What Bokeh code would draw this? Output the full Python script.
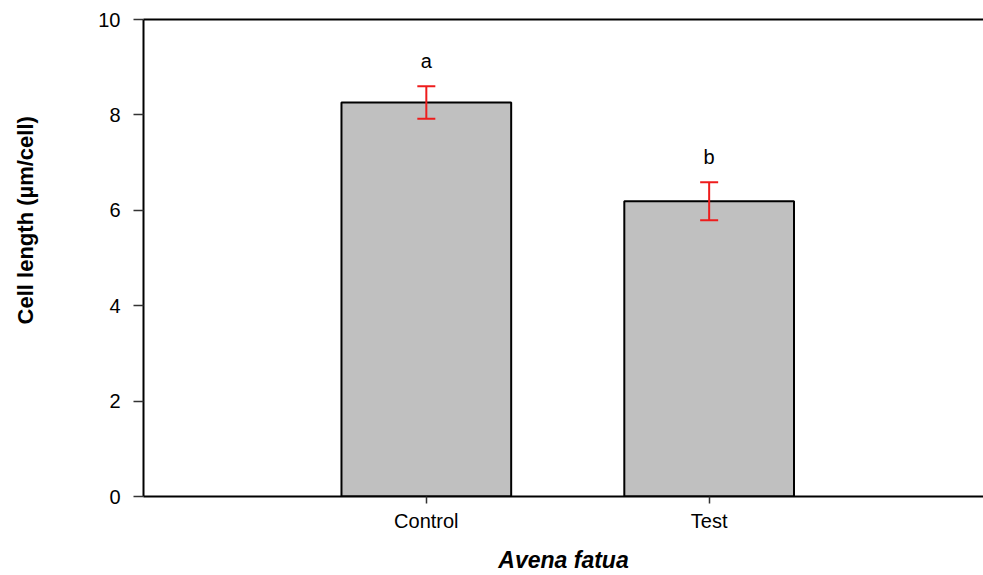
import math
from bokeh.plotting import figure
from bokeh.layouts import row
from bokeh.models import (ColumnDataSource, Range1d, FixedTicker, LinearAxis, Whisker, TeeHead, Label)
from bokeh.core.properties import value
from bokeh.embed import file_html
from bokeh.resources import INLINE

categories = ["Control", "Test"]
means = [8.26, 6.19]
errors = [0.34, 0.40]
letters = ["a", "b"]
y_ticks = [0, 2, 4, 6, 8, 10]
y_title = "Cell length (µm/cell)"
x_title = "Avena fatua"

xpos = [i + 1 for i in range(len(categories))]
src = ColumnDataSource(dict(
    x=xpos, top=means,
    upper=[m + e for m, e in zip(means, errors)],
    lower=[m - e for m, e in zip(means, errors)],
    ly=[m + e + 0.52 for m, e in zip(means, errors)],
    lab=letters,
))

# narrow side panel carrying the y-axis title
side = figure(width=50, height=575, output_backend="svg", toolbar_location=None,
              x_range=Range1d(0, 50), y_range=Range1d(0, 575),
              min_border=0)
side.axis.visible = False
side.grid.visible = False
side.outline_line_color = None
side.add_layout(Label(x=25, y=333, text=y_title, angle=math.pi / 2,
                      text_align="center", text_baseline="middle",
                      text_font="Liberation Sans", text_font_style="bold",
                      text_font_size="22px", text_color="black"))

p = figure(width=933, height=575, output_backend="svg", toolbar_location=None,
           x_range=Range1d(0, 2.97), y_range=Range1d(0, 10),
           min_border_left=93, min_border_right=0, min_border_top=19, min_border_bottom=70)
p.outline_line_color = None
p.grid.visible = False
p.background_fill_color = "white"

p.vbar(x="x", top="top", bottom=0, width=0.6, source=src,
       fill_color="#c0c0c0", line_color="black", line_width=2)

w = Whisker(base="x", upper="upper", lower="lower", source=src,
            line_color="#ee1c1c", line_width=2, level="overlay",
            upper_head=TeeHead(size=18, line_color="#ee1c1c", line_width=2),
            lower_head=TeeHead(size=18, line_color="#ee1c1c", line_width=2))
p.add_layout(w)

p.text(x="x", y="ly", text="lab", source=src, text_align="center", text_baseline="middle",
       text_font=value("Liberation Sans"), text_font_size="20px", text_color="black")

xa = p.xaxis[0]
xa.ticker = FixedTicker(ticks=xpos)
xa.major_label_overrides = {x: c for x, c in zip(xpos, categories)}
xa.minor_tick_line_color = None
xa.major_tick_in = 0
xa.major_tick_out = 7
xa.major_tick_line_color = "#333333"
xa.major_tick_line_width = 1.5
xa.axis_line_width = 2
xa.axis_line_color = "black"
xa.major_label_text_font = "Liberation Sans"
xa.major_label_text_font_size = "20px"
xa.major_label_text_color = "black"
xa.major_label_standoff = 6
xa.axis_label = x_title
xa.axis_label_text_font = "Liberation Sans"
xa.axis_label_text_font_style = "bold italic"
xa.axis_label_text_font_size = "23px"
xa.axis_label_text_color = "black"
xa.axis_label_standoff = 12

ya = p.yaxis[0]
ya.ticker = FixedTicker(ticks=y_ticks)
ya.minor_tick_line_color = None
ya.major_tick_in = 0
ya.major_tick_out = 10
ya.major_tick_line_color = "#333333"
ya.major_tick_line_width = 1.5
ya.axis_line_width = 2
ya.axis_line_color = "black"
ya.major_label_text_font = "Liberation Sans"
ya.major_label_text_font_size = "20px"
ya.major_label_text_color = "black"
ya.major_label_standoff = 13

top_axis = LinearAxis(ticker=FixedTicker(ticks=[]), major_tick_line_color=None,
                      minor_tick_line_color=None, major_label_text_font_size="0px",
                      axis_line_width=2, axis_line_color="black")
p.add_layout(top_axis, "above")

layout = row(side, p, spacing=0)
open("out.html", "w").write(file_html(layout, INLINE))
